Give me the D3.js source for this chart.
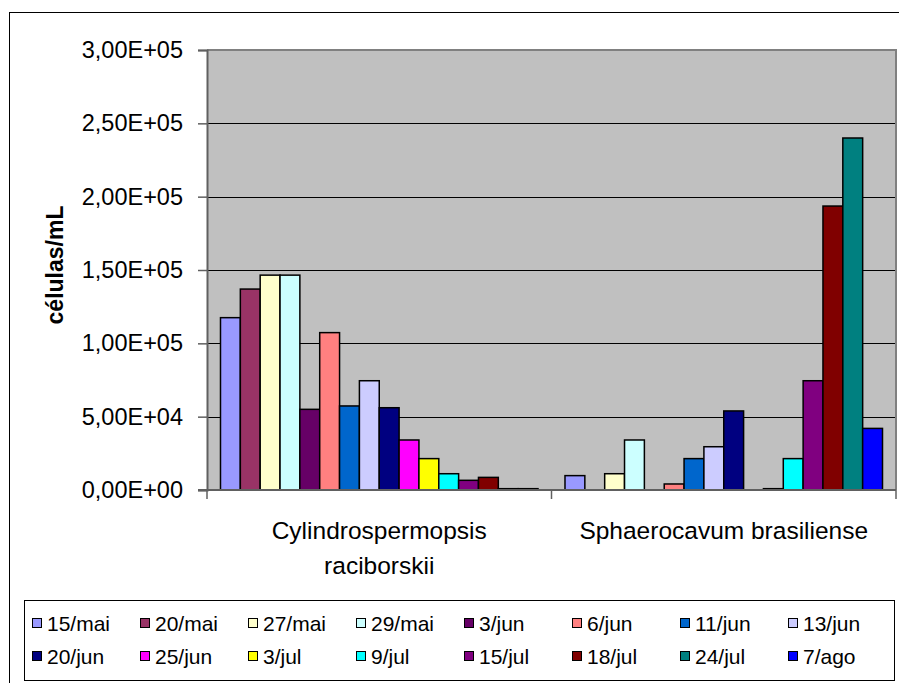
<!DOCTYPE html>
<html>
<head>
<meta charset="utf-8">
<script src="https://cdn.jsdelivr.net/npm/d3@7"></script>
<style>
  html, body { margin: 0; padding: 0; background: #fff; }
  svg { display: block; font-family: "Liberation Sans", Arial, sans-serif; }
</style>
</head>
<body>
<svg id="chart" width="899" height="683"></svg>
<script>
// Species (category axis) and sampling dates (series)
const categories = [["Cylindrospermopsis", "raciborskii"], ["Sphaerocavum brasiliense"]];
const dates = ["15/mai", "20/mai", "27/mai", "29/mai", "3/jun", "6/jun", "11/jun", "13/jun",
               "20/jun", "25/jun", "3/jul", "9/jul", "15/jul", "18/jul", "24/jul", "7/ago"];

// Cell densities (células/mL) per date, one array per species
const cylindrospermopsis = [117500, 137000, 146500, 146500, 55000, 107300, 57300, 74500,
                            56100, 34100, 21400, 11100, 6600, 8600, 900, 900];
const sphaerocavum = [9800, 0, 11100, 34100, 0, 4100, 21400, 29500,
                      53900, 0, 900, 21400, 74500, 193600, 240000, 42000];

const yTicks = [0, 50000, 100000, 150000, 200000, 250000, 300000];

const seriesColors = ["#9999FF", "#993366", "#FFFFCC", "#CCFFFF", "#660066", "#FF8080", "#0066CC", "#CCCCFF",
                      "#000080", "#FF00FF", "#FFFF00", "#00FFFF", "#800080", "#800000", "#008080", "#0000FF"];

const values = [cylindrospermopsis, sphaerocavum];

const svg = d3.select("#chart");
const plot = { left: 207, right: 896, top: 50, bottom: 490 };

// Chart frame
svg.append("rect")
  .attr("x", 9.5).attr("y", 12.5).attr("width", 900).attr("height", 690)
  .attr("fill", "#fff").attr("stroke", "#000").attr("stroke-width", 1);

const x0 = d3.scaleBand()
  .domain(d3.range(categories.length))
  .range([plot.left, plot.right])
  .padding(0);

const x1 = d3.scaleBand()
  .domain(dates)
  .range([0, x0.bandwidth()])
  .paddingInner(0)
  .paddingOuter(0.68);

const y = d3.scaleLinear().domain([0, 300000]).range([plot.bottom, plot.top]);

// Plot background
svg.append("rect")
  .attr("x", plot.left).attr("y", plot.top)
  .attr("width", plot.right - plot.left).attr("height", plot.bottom - plot.top)
  .attr("fill", "#C0C0C0");

// Horizontal gridlines
svg.append("g")
  .selectAll("line")
  .data(yTicks.filter(t => t > 0 && t < 300000))
  .join("line")
  .attr("x1", plot.left).attr("x2", plot.right)
  .attr("y1", d => Math.round(y(d)) + 0.5).attr("y2", d => Math.round(y(d)) + 0.5)
  .attr("stroke", "#000").attr("stroke-width", 1);

// Plot area border (top and right)
svg.append("path")
  .attr("d", `M${plot.left},${plot.top} H${plot.right} V${plot.bottom}`)
  .attr("fill", "none").attr("stroke", "#808080").attr("stroke-width", 2);

// Bars
const groups = svg.append("g")
  .selectAll("g")
  .data(values)
  .join("g")
  .attr("transform", (d, i) => `translate(${x0(i)},0)`);

groups.selectAll("rect")
  .data(d => d.map((v, j) => ({ v, date: dates[j], color: seriesColors[j] })).filter(e => e.v > 0))
  .join("rect")
  .attr("x", d => x1(d.date))
  .attr("y", d => y(d.v))
  .attr("width", x1.bandwidth())
  .attr("height", d => y(0) - y(d.v))
  .attr("fill", d => d.color)
  .attr("stroke", "#000")
  .attr("stroke-width", 1.5);

// Value axis
const sciFormat = v => {
  if (v === 0) return "0,00E+00";
  const e = Math.floor(Math.log10(v));
  const m = (v / Math.pow(10, e)).toFixed(2).replace(".", ",");
  return `${m}E+${String(e).padStart(2, "0")}`;
};

const yAxis = svg.append("g")
  .attr("transform", `translate(${plot.left},0)`)
  .call(d3.axisLeft(y).tickValues(yTicks).tickFormat(sciFormat).tickSize(9).tickPadding(15));
yAxis.select(".domain").attr("stroke", "#606060").attr("stroke-width", 2);
yAxis.selectAll(".tick line").attr("stroke", "#606060").attr("stroke-width", 1.5);
yAxis.selectAll(".tick text")
  .attr("font-size", 23.5).attr("fill", "#000")
  .attr("font-family", "Liberation Sans, Arial, sans-serif");

// Category axis
const xAxisG = svg.append("g");
xAxisG.append("line")
  .attr("x1", plot.left - 9).attr("x2", plot.right)
  .attr("y1", plot.bottom).attr("y2", plot.bottom)
  .attr("stroke", "#606060").attr("stroke-width", 2);
xAxisG.selectAll("line.cat-tick")
  .data(d3.range(categories.length + 1))
  .join("line")
  .attr("class", "cat-tick")
  .attr("x1", i => i < categories.length ? x0(i) : x0(categories.length - 1) + x0.bandwidth())
  .attr("x2", i => i < categories.length ? x0(i) : x0(categories.length - 1) + x0.bandwidth())
  .attr("y1", plot.bottom).attr("y2", plot.bottom + 9)
  .attr("stroke", "#606060").attr("stroke-width", 1.5);

xAxisG.selectAll("text")
  .data(categories)
  .join("text")
  .attr("x", (d, i) => x0(i) + x0.bandwidth() / 2)
  .attr("y", 530)
  .attr("text-anchor", "middle")
  .attr("font-size", 24.5)
  .attr("fill", "#000")
  .each(function(lines) {
    d3.select(this).selectAll("tspan")
      .data(lines)
      .join("tspan")
      .attr("x", d3.select(this).attr("x"))
      .attr("dy", (l, k) => k === 0 ? "0.35em" : 35)
      .text(l => l);
  });

// Value axis title
svg.append("text")
  .attr("transform", "translate(55,265) rotate(-90)")
  .attr("text-anchor", "middle")
  .attr("dominant-baseline", "central")
  .attr("font-size", 23)
  .attr("font-weight", "bold")
  .attr("fill", "#000")
  .text("células/mL");

// Legend
const legend = svg.append("g");
legend.append("rect")
  .attr("x", 24.5).attr("y", 600.5).attr("width", 870).attr("height", 80)
  .attr("fill", "#fff").attr("stroke", "#000").attr("stroke-width", 1);

const perRow = 8;
const items = legend.selectAll("g.item")
  .data(dates)
  .join("g")
  .attr("class", "item")
  .attr("transform", (d, i) => `translate(${32 + (i % perRow) * 108},${i < perRow ? 623 : 656})`);

items.append("rect")
  .attr("x", 0.5).attr("y", -4.5).attr("width", 9).attr("height", 9)
  .attr("fill", (d, i) => seriesColors[i])
  .attr("stroke", "#000").attr("stroke-width", 1);

items.append("text")
  .attr("x", 15).attr("y", 0)
  .attr("dominant-baseline", "central")
  .attr("font-size", 21)
  .attr("fill", "#000")
  .text(d => d);
</script>
</body>
</html>
